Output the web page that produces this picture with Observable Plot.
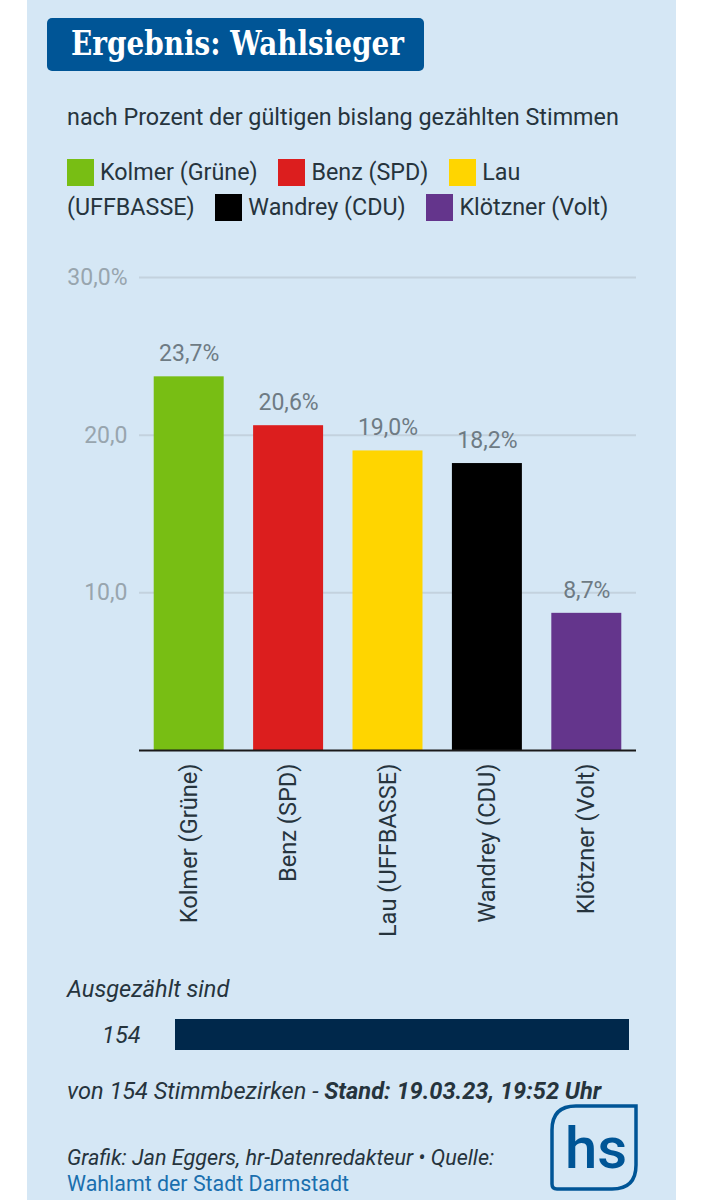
<!DOCTYPE html>
<html><head><meta charset="utf-8">
<script src="https://cdn.jsdelivr.net/npm/d3@7"></script>
<script src="https://cdn.jsdelivr.net/npm/@observablehq/plot@0.6"></script>
<style>
html,body{margin:0;padding:0;background:#fff;}
#page{position:relative;width:703px;height:1200px;overflow:hidden;font-family:Roboto,sans-serif;}
#panel{position:absolute;left:27px;top:0;width:649px;height:1200px;background:#d5e7f5;}
#title{position:absolute;left:47px;top:18px;width:377px;height:53px;background:#005596;border-radius:5px;color:#fff;font:bold 33px/52px "DejaVu Serif",serif;white-space:nowrap;overflow:hidden;}
#title span{position:absolute;left:24px;top:0;transform:scaleX(.845);transform-origin:left center;}
#sub{position:absolute;left:67px;top:102px;font-size:23.35px;line-height:30px;color:#26343d;white-space:nowrap;}
#legend{position:absolute;left:67px;top:155px;width:565px;font-size:23.3px;line-height:34.5px;color:#26343d;}
#legend .sw{display:inline-block;width:27px;height:27px;margin-right:6px;vertical-align:-6px;}
#legend .it{margin-right:15px;}
#chart{position:absolute;left:0;top:250px;}
#bar{position:absolute;left:0;top:1019px;}
.t{position:absolute;left:67px;font-size:23.6px;font-style:italic;color:#26343d;white-space:nowrap;line-height:30px;}
svg{overflow:visible;background:transparent;}
#logo{position:absolute;left:550px;top:1104px;}
</style></head><body>
<div id="page">
<div id="panel"></div>
<div id="title"><span>Ergebnis: Wahlsieger</span></div>
<div id="sub">nach Prozent der gültigen bislang gezählten Stimmen</div>
<div id="legend"></div>
<div id="chart"></div>
<div class="t" style="top:974px">Ausgezählt sind</div>
<div id="bar"></div>
<div class="t" style="top:1076px">von 154 Stimmbezirken - <b>Stand: 19.03.23, 19:52 Uhr</b></div>
<div class="t" style="top:1145px;font-size:21.6px;line-height:26px;">Grafik: Jan Eggers, hr-Datenredakteur • Quelle:<br><span style="font-style:normal;font-size:21.4px;color:#1a6fae">Wahlamt der Stadt Darmstadt</span></div>
<svg id="logo" width="88" height="88" viewBox="0 0 88 88">
<path d="M86 2 H26 Q2 2 2 26 V80 Q2 85 7 85 H62 Q86 85 86 61 Z" fill="none" stroke="#005596" stroke-width="3.5"/>
<text x="46" y="64" text-anchor="middle" font-family="Roboto,sans-serif" font-weight="500" font-size="58" fill="#005596">hs</text>
</svg>
</div>
<script>
const candidates = ["Kolmer (Grüne)", "Benz (SPD)", "Lau (UFFBASSE)", "Wandrey (CDU)", "Klötzner (Volt)"];
const shares = [23.7, 20.6, 19.0, 18.2, 8.7];
const colours = ["#78be14", "#dc1e1e", "#ffd500", "#000000", "#64358c"];
const yTicks = [10, 20, 30];
const yTickLabels = ["10,0", "20,0", "30,0%"];
const countedLabel = ["154"];
const counted = [154];
const totalDistricts = 154;

const rows = candidates.map((name, i) => ({name, share: shares[i]}));
const fmt = v => v.toFixed(1).replace(".", ",") + "%";

const legend = document.getElementById("legend");
candidates.forEach((c, i) => {
  const [first, ...rest] = c.split(" ");
  const a = document.createElement("span");
  a.style.whiteSpace = "nowrap";
  a.innerHTML = `<span class="sw" style="background:${colours[i]}"></span><span>${first}</span>`;
  legend.append(a, " ");
  const b = document.createElement("span");
  b.className = "it";
  b.textContent = rest.join(" ");
  legend.append(b, " ");
});

const chart = Plot.plot({
  width: 703, height: 700,
  marginLeft: 139, marginRight: 67, marginTop: 27, marginBottom: 200,
  style: {background: "transparent", fontFamily: "Roboto, sans-serif", overflow: "visible"},
  x: {domain: candidates, paddingInner: 0.296, paddingOuter: 0.148, align: 0.5, round: false, label: null},
  y: {domain: [0, 30], label: null},
  color: {domain: candidates, range: colours},
  marks: [
    Plot.ruleY(yTicks, {stroke: "#c3d2de", strokeWidth: 2}),
    Plot.axisY({
      ticks: yTicks, tickSize: 0, tickPadding: 0, label: null, marginLeft: 139,
      tickFormat: v => yTickLabels[yTicks.indexOf(v)],
      fontSize: 23, fill: "#98a5ae", dx: -12, dy: 0
    }),
    Plot.barY(rows, {x: "name", y: "share", fill: "name"}),
    Plot.ruleY([0], {stroke: "#1a1a1a", strokeWidth: 2}),
    Plot.axisX({
      tickSize: 0, tickRotate: -90, tickPadding: 13, label: null,
      fontSize: 23.6, fill: "#26343d"
    }),
    Plot.text(rows, {
      x: "name", y: "share", text: d => fmt(d.share), dy: -23,
      fontSize: 23, fill: "#6e7b84"
    })
  ]
});
document.getElementById("chart").append(chart);

const bar = Plot.plot({
  width: 703, height: 31,
  marginLeft: 175, marginRight: 74, marginTop: 0, marginBottom: 0,
  style: {background: "transparent", fontFamily: "Roboto, sans-serif", overflow: "visible"},
  x: {domain: [0, totalDistricts], axis: null},
  y: {domain: countedLabel, label: null, padding: 0},
  marks: [
    Plot.barX(counted, {x: d => d, y: countedLabel, fill: "#00284b"}),
    Plot.axisY({
      tickSize: 0, tickPadding: 35, label: null, marginLeft: 175,
      fontSize: 23.5, fontStyle: "italic", fill: "#26343d"
    })
  ]
});
document.getElementById("bar").append(bar);
</script>
</body></html>
